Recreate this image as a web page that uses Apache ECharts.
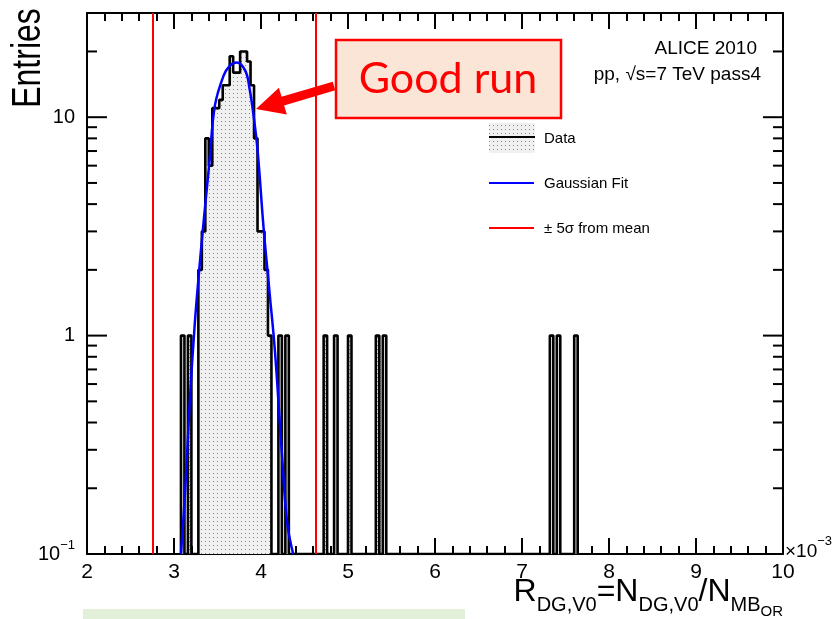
<!DOCTYPE html>
<html><head><meta charset="utf-8">
<script src="https://cdn.jsdelivr.net/npm/echarts@6/dist/echarts.min.js"></script>
<style>html,body{margin:0;padding:0;background:#fff}#c{width:838px;height:619px}</style>
</head><body><div id="c"></div>
<script>
// ---- data ----
const binWidth = 0.04;
const binLowEdges = [3.08,3.16,3.28,3.32,3.36,3.40,3.44,3.48,3.52,3.56,3.60,3.64,3.68,3.72,3.76,3.80,3.84,3.88,3.92,3.96,4.00,4.04,4.08,4.20,4.28,4.72,4.84,5.00,5.32,5.40,7.32,7.40,7.60];
const binCounts   = [1,   1,   2,   3,   8,   6,   11,  11,  12,  14,  14,  19,  16,  16,  20,  20,  18,  14,  8,   3,   3,   2,   1,   1,   1,   1,   1,   1,   1,   1,   1,   1,   1];
const fitX = [3.08,3.13,3.18,3.24,3.29,3.33,3.41,3.47,3.57,3.64,3.72,3.82,3.87,3.91,3.96,4.03,4.10,4.16,4.24,4.30,4.37];
const fitY = [0.1, 0.2, 0.49,1.15,2.0, 3.0, 6.4, 11.3,15.5,17.2,17.8,16.3,13.4,10.5,7.1, 3.1, 1.55,0.85,0.29,0.14,0.1];
const sigmaLines = [2.75, 4.63];
const xMin = 2, xMax = 10, yMin = 0.1, yMax = 30;
const yMinorTicks = [0.2,0.3,0.4,0.5,0.6,0.7,0.8,0.9,2,3,4,5,6,7,8,9,20,30];
const yMajorTicks = [1,10];

const FONT = 'Liberation Sans, Arial, Helvetica, sans-serif';

// histogram outline (step contour)
function buildOutline(){
  const pts = [];
  let prevEnd = null;
  for (let i=0;i<binLowEdges.length;i++){
    const lo = binLowEdges[i], hi = +(lo+binWidth).toFixed(4), v = binCounts[i];
    if (prevEnd === null || Math.abs(lo-prevEnd) > 1e-6){
      if (prevEnd !== null) pts.push([prevEnd, yMin]);
      pts.push([lo, yMin]);
    }
    pts.push([lo, v]); pts.push([hi, v]);
    prevEnd = hi;
  }
  pts.push([prevEnd, yMin]);
  return pts;
}

// dotted fill pattern
const pat = document.createElement('canvas'); pat.width = 4; pat.height = 4;
const pg = pat.getContext('2d');
pg.fillStyle = '#f0f0f0'; pg.fillRect(0,0,4,4);
pg.fillStyle = '#888888'; pg.fillRect(1,1,1,1);
const patFill = {image: pat, repeat: 'repeat'};

const yTickData = yMinorTicks.map(v => [xMin, v, 0]).concat(yMajorTicks.map(v => [xMin, v, 1]));

// arrow polygon (annotation)
function arrowPts(tail, tip, shaftW, headL, headW){
  const dx = tip[0]-tail[0], dy = tip[1]-tail[1], L = Math.hypot(dx,dy);
  const ux = dx/L, uy = dy/L, nx = -uy, ny = ux;
  const bx = tip[0]-ux*headL, by = tip[1]-uy*headL;
  return [
    [tail[0]+nx*shaftW/2, tail[1]+ny*shaftW/2],
    [bx+nx*shaftW/2, by+ny*shaftW/2],
    [bx+nx*headW/2, by+ny*headW/2],
    tip,
    [bx-nx*headW/2, by-ny*headW/2],
    [bx-nx*shaftW/2, by-ny*shaftW/2],
    [tail[0]-nx*shaftW/2, tail[1]-ny*shaftW/2]
  ];
}

const chart = echarts.init(document.getElementById('c'), null, {renderer:'canvas', width:838, height:619});

const xAxisCommon = {
  type:'value', min:xMin, max:xMax, interval:1,
  axisLine:{show:true, onZero:false, lineStyle:{color:'#000', width:2}},
  axisTick:{show:true, inside:true, length:16, lineStyle:{color:'#000', width:2}},
  minorTick:{show:true, splitNumber:5, length:8, lineStyle:{color:'#000', width:2}},
  splitLine:{show:false}, minorSplitLine:{show:false}
};

chart.setOption({
  animation:false,
  backgroundColor:'#fff',
  grid:{left:87, right:55, top:13, bottom:65, containLabel:false},
  xAxis:[
    Object.assign({}, xAxisCommon, {position:'bottom',
      axisLabel:{show:true, margin:8, fontSize:21, color:'#000', fontFamily:FONT}}),
    Object.assign({}, xAxisCommon, {position:'top', axisLabel:{show:false}})
  ],
  yAxis:[
    {type:'log', logBase:10, min:yMin, max:yMax, position:'left',
     axisLine:{show:true, onZero:false, lineStyle:{color:'#000', width:2}},
     axisTick:{show:false}, splitLine:{show:false},
     axisLabel:{show:true, margin:12, fontSize:20, color:'#000', fontFamily:FONT,
       showMaxLabel:false,
       formatter:function(v){
         const e = Math.round(Math.log10(v)*1000)/1000;
         if (e === -1) return '{b|10}{s|−1}';
         if (e === 0) return '1';
         if (e === 1) return '10';
         return '';
       },
       rich:{
         b:{fontSize:20, fontFamily:FONT, color:'#000', lineHeight:30},
         s:{fontSize:13, fontFamily:FONT, color:'#000', lineHeight:12, verticalAlign:'top'}
       }}
    },
    {type:'log', logBase:10, min:yMin, max:yMax, position:'right',
     axisLine:{show:true, onZero:false, lineStyle:{color:'#000', width:2}},
     axisTick:{show:false}, splitLine:{show:false}, axisLabel:{show:false}}
  ],
  series:[
    {type:'line', name:'Data', data:buildOutline(), symbol:'none', z:2,
     lineStyle:{color:'#000', width:2.6}, areaStyle:{origin:'start', color:patFill, opacity:1},
     markLine:{silent:true, symbol:'none', label:{show:false}, animation:false,
       lineStyle:{color:'#ff0000', width:2, type:'solid'},
       data: sigmaLines.map(v => ({xAxis:v}))}},
    {type:'line', name:'Gaussian Fit', data:fitX.map((x,i)=>[x,fitY[i]]), symbol:'none', smooth:0.4, z:3,
     lineStyle:{color:'#0000ff', width:2.5}},
    {type:'custom', name:'yticks', data:yTickData, z:5, silent:true, clip:false,
     renderItem:function(params, api){
       const v = api.value(1), major = api.value(2);
       const pL = api.coord([xMin, v]), pR = api.coord([xMax, v]);
       const len = major ? 20 : 10;
       return {type:'group', children:[
         {type:'line', shape:{x1:pL[0], y1:pL[1], x2:pL[0]+len, y2:pL[1]}, style:{stroke:'#000', lineWidth:2}},
         {type:'line', shape:{x1:pR[0], y1:pR[1], x2:pR[0]-len, y2:pR[1]}, style:{stroke:'#000', lineWidth:2}}
       ]};
     }}
  ],
  graphic:[
    // y title
    {type:'text', x:29, y:58, rotation:Math.PI/2, scaleX:0.8,
     style:{text:'Entries', font:'40px '+FONT, fill:'#000', align:'center', verticalAlign:'middle'}},
    // x title
    {type:'text', right:55, top:576,
     style:{text:'{a|R}{b|DG,V0}{a|=N}{b|DG,V0}{a|/N}{b|MB}{c|OR}', fill:'#000',
       rich:{
         a:{fontSize:32, fontFamily:FONT, lineHeight:34, verticalAlign:'top'},
         b:{fontSize:20, fontFamily:FONT, lineHeight:20, padding:[19,0,0,0], verticalAlign:'top'},
         c:{fontSize:15, fontFamily:FONT, lineHeight:15, padding:[28,0,0,0], verticalAlign:'top'}
       }}},
    // x10^-3
    {type:'text', left:785, top:535,
     style:{text:'{a|×10}{s|−3}', fill:'#000',
       rich:{a:{fontSize:19, fontFamily:FONT, lineHeight:26, verticalAlign:'bottom'},
             s:{fontSize:13, fontFamily:FONT, lineHeight:12, verticalAlign:'top'}}}},
    // ALICE labels
    {type:'text', x:757, y:49, style:{text:'ALICE 2010', font:'19px '+FONT, fill:'#000', align:'right', verticalAlign:'middle'}},
    {type:'text', x:761, y:75, style:{text:'pp, √s=7 TeV pass4', font:'19px '+FONT, fill:'#000', align:'right', verticalAlign:'middle'}},
    // legend
    {type:'rect', shape:{x:489, y:123, width:46, height:30}, style:{fill:patFill}},
    {type:'line', shape:{x1:489, y1:137, x2:535, y2:137}, style:{stroke:'#000', lineWidth:2}},
    {type:'text', x:544, y:139, style:{text:'Data', font:'15px '+FONT, fill:'#000', verticalAlign:'middle'}},
    {type:'line', shape:{x1:489, y1:183, x2:534, y2:183}, style:{stroke:'#0000ff', lineWidth:2}},
    {type:'text', x:544, y:184, style:{text:'Gaussian Fit', font:'15px '+FONT, fill:'#000', verticalAlign:'middle'}},
    {type:'line', shape:{x1:489, y1:228, x2:534, y2:228}, style:{stroke:'#ff0000', lineWidth:2}},
    {type:'text', x:544, y:229, style:{text:'± 5σ from mean', font:'15px '+FONT, fill:'#000', verticalAlign:'middle'}},
    // Good run box
    {type:'rect', shape:{x:336, y:40, width:225, height:78}, style:{fill:'#fbe5d6', stroke:'#ff0000', lineWidth:2.5}, z:10},
    {type:'text', x:448, y:79, z:11, style:{text:'Good run', font:'43px Lato, "Open Sans", sans-serif', fill:'#ff0000', align:'center', verticalAlign:'middle'}},
    {type:'polygon', z:10, shape:{points:arrowPts([334,86],[256,109],9,28,28)}, style:{fill:'#ff0000'}},
    // green bar at bottom
    {type:'rect', shape:{x:83, y:609, width:382, height:10}, style:{fill:'#e2efd9'}}
  ]
});
</script></body></html>
